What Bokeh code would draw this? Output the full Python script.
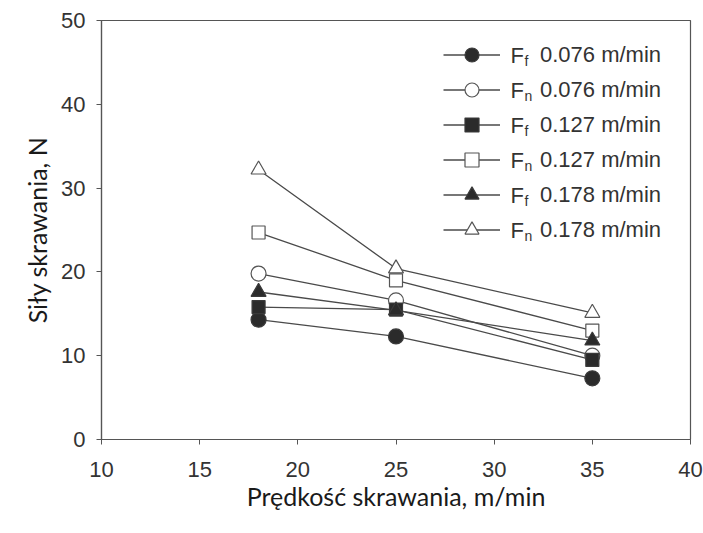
from bokeh.plotting import figure
from bokeh.models import Legend, LegendItem, Label, FixedTicker, Range1d
from bokeh.embed import file_html
from bokeh.resources import INLINE

# Data
speed = [18, 25, 35]
ff_076 = [14.3, 12.3, 7.3]
fn_076 = [19.8, 16.6, 10.0]
ff_127 = [15.8, 15.5, 9.5]
fn_127 = [24.7, 19.0, 13.0]
ff_178 = [17.6, 15.4, 11.8]
fn_178 = [32.2, 20.4, 15.1]

x_ticks = [10, 15, 20, 25, 30, 35, 40]
y_ticks = [0, 10, 20, 30, 40, 50]

series = [
    ("f", "0.076 m/min", ff_076, "circle", True),
    ("n", "0.076 m/min", fn_076, "circle", False),
    ("f", "0.127 m/min", ff_127, "square", True),
    ("n", "0.127 m/min", fn_127, "square", False),
    ("f", "0.178 m/min", ff_178, "triangle", True),
    ("n", "0.178 m/min", fn_178, "triangle", False),
]
sizes = {"circle": 15, "square": 13, "triangle": 15}

p = figure(width=703, height=533, output_backend="svg", toolbar_location=None,
           x_range=Range1d(10, 40), y_range=Range1d(0, 50),
           min_border_left=101, min_border_right=13, min_border_top=20,
           min_border_bottom=94, background_fill_color="white",
           border_fill_color="white")
p.grid.visible = False
p.outline_line_color = "#555555"
p.outline_line_width = 1.2

for ax in (p.xaxis[0], p.yaxis[0]):
    ax.axis_line_color = "#555555"
    ax.axis_line_width = 1.2
    ax.major_tick_line_color = "#555555"
    ax.major_tick_in = 0
    ax.major_tick_out = 5
    ax.minor_tick_line_color = None
    ax.major_label_text_font = "Liberation Sans"
    ax.major_label_text_font_size = "22px"
    ax.major_label_text_color = "#333333"
    ax.axis_label_text_font = "Lato"
    ax.axis_label_text_font_size = "25px"
    ax.axis_label_text_font_style = "normal"
    ax.axis_label_text_color = "#1a1a1a"

p.xaxis.ticker = FixedTicker(ticks=x_ticks)
p.yaxis.ticker = FixedTicker(ticks=y_ticks)
p.xaxis.axis_label = "Prędkość skrawania, m/min"
p.yaxis.axis_label = "Siły skrawania, N"
p.xaxis.major_label_standoff = 17
p.yaxis.major_label_standoff = 11
p.xaxis.axis_label_standoff = 1
p.yaxis.axis_label_standoff = 6

line_rs = []
for sub, lab, vals, marker, filled in series:
    lr = p.line(speed, vals, line_color="#4a4a4a", line_width=1.3)
    line_rs.append(lr)

items = []
for (sub, lab, vals, marker, filled), lr in zip(series, line_rs):
    sr = p.scatter(speed, vals, marker=marker, size=sizes[marker],
                   fill_color="#2b2b2b" if filled else "white",
                   line_color="#3a3a3a" if filled else "#555555",
                   line_width=1.2)
    items.append(LegendItem(label=lab, renderers=[lr, sr]))

legend = Legend(items=items, location=(342, 192), padding=0, spacing=0,
                glyph_width=57, glyph_height=35, label_height=35,
                label_standoff=40, border_line_alpha=0,
                background_fill_alpha=0, margin=0,
                label_text_font="Liberation Sans",
                label_text_font_size="22px", label_text_color="#333333")
p.add_layout(legend, "center")

for i, (sub, lab, vals, marker, filled) in enumerate(series):
    cy = 419 - 17 - 17.5 - 35 * i
    p.add_layout(Label(x=409, y=cy, x_units="screen", y_units="screen",
                       text="F", text_font="Liberation Sans",
                       text_font_size="22px", text_color="#333333",
                       text_baseline="middle", text_align="left"))
    p.add_layout(Label(x=423, y=cy - 6, x_units="screen", y_units="screen",
                       text=sub, text_font="Liberation Sans",
                       text_font_size="14px", text_color="#333333",
                       text_baseline="middle", text_align="left"))

open("out.html", "w").write(file_html(p, INLINE))
